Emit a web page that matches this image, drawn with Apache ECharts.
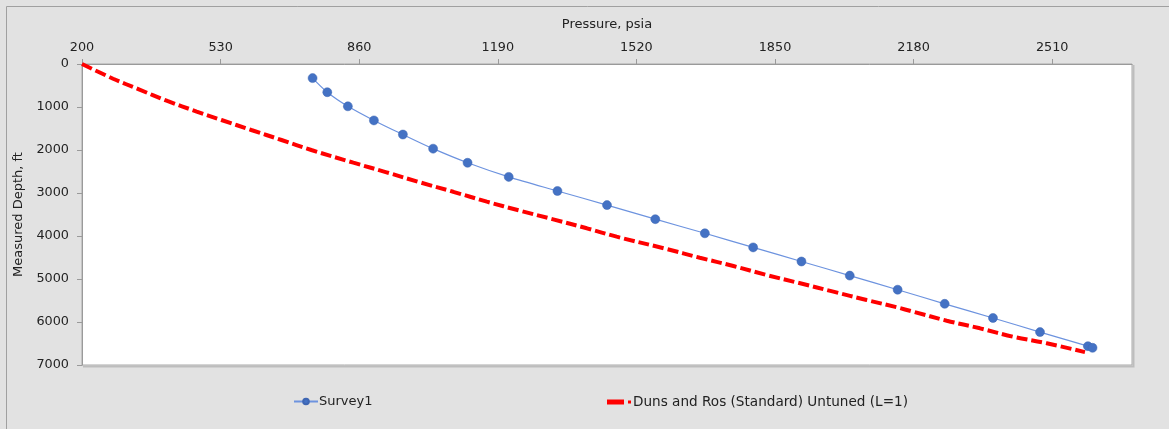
<!DOCTYPE html>
<html>
<head>
<meta charset="utf-8">
<script src="https://cdn.jsdelivr.net/npm/echarts@6/dist/echarts.min.js"></script>
<style>
  html, body { margin: 0; padding: 0; background: #e2e2e2; }
  #chart { width: 1169px; height: 429px; }
</style>
</head>
<body>
<div id="chart"></div>
<script>
// Pressure traverse: measured survey vs. Duns and Ros correlation
const pressureTicks = { min: 200, max: 2700, interval: 330 };
const depthTicks = { min: 0, max: 7000, interval: 1000 };

// Survey1 gauge readings (psia, ft)
const surveyPressure = [749, 784, 833, 895, 964, 1036, 1118, 1216, 1332, 1450, 1565,
  1683, 1798, 1913, 2028, 2142, 2254, 2369, 2481, 2595, 2606];
const surveyDepth = [328, 656, 984, 1312, 1640, 1969, 2297, 2625, 2953, 3281, 3609,
  3937, 4265, 4593, 4921, 5249, 5577, 5906, 6234, 6562, 6600];

// Duns and Ros (Standard) Untuned (L=1) calculated traverse (psia, ft)
const dunsRosPressure = [200, 274, 334, 403, 473, 532, 603, 675, 746, 846, 925, 1005,
  1084, 1164, 1243, 1322, 1402, 1473, 1592, 1671, 1751, 1830, 1910, 1989, 2068, 2140,
  2179, 2259, 2338, 2417, 2497, 2588];
const dunsRosDepth = [0, 342, 584, 858, 1105, 1302, 1535, 1767, 2000, 2295, 2519, 2753,
  2972, 3202, 3412, 3612, 3821, 4016, 4302, 4505, 4698, 4907, 5100, 5295, 5488, 5658,
  5760, 5970, 6147, 6342, 6495, 6700];

const pairs = (xs, ys) => xs.map((x, i) => [x, ys[i]]);

const FONT = '"DejaVu Sans", Verdana, sans-serif';
const TEXT = '#222222';
const AXIS = '#9a9a9a';
const plain = v => String(v);

const chart = echarts.init(document.getElementById('chart'), null, { renderer: 'canvas' });
chart.setOption({
  backgroundColor: '#e2e2e2',
  animation: false,
  textStyle: { fontFamily: FONT },
  grid: {
    left: 82, top: 64, width: 1050, height: 301,
    show: true, backgroundColor: '#ffffff', borderColor: '#a8a8a8', borderWidth: 1
  },
  graphic: [
    // panel outline
    { type: 'polyline', shape: { points: [[6.5, 429], [6.5, 6.5], [1169, 6.5]] },
      style: { stroke: '#a0a0a0', lineWidth: 1, fill: null }, z: 0 },
    // plot-area shadow on right and bottom
    { type: 'polyline', shape: { points: [[1133.5, 65], [1133.5, 366.5], [83, 366.5]] },
      style: { stroke: '#bdbdbd', lineWidth: 2, fill: null }, z: 0 }
  ],
  xAxis: {
    type: 'value', position: 'top',
    min: pressureTicks.min, max: pressureTicks.max, interval: pressureTicks.interval,
    name: 'Pressure, psia', nameLocation: 'middle', nameGap: 33,
    nameTextStyle: { color: TEXT, fontSize: 13, fontFamily: FONT },
    axisLine: { show: true, lineStyle: { color: AXIS } },
    axisTick: { show: true, length: 5, inside: false, lineStyle: { color: AXIS } },
    axisLabel: { color: TEXT, fontSize: 12.8, fontFamily: FONT, margin: 10,
      showMaxLabel: false, formatter: plain },
    splitLine: { show: false }
  },
  yAxis: {
    type: 'value', inverse: true,
    min: depthTicks.min, max: depthTicks.max, interval: depthTicks.interval,
    name: 'Measured Depth, ft', nameLocation: 'middle', nameGap: 48,
    nameTextStyle: { color: TEXT, fontSize: 13, fontFamily: FONT },
    axisLine: { show: true, lineStyle: { color: AXIS } },
    axisTick: { show: true, length: 5, inside: false, lineStyle: { color: AXIS } },
    axisLabel: { color: TEXT, fontSize: 12.8, fontFamily: FONT, margin: 13, formatter: plain },
    splitLine: { show: false }
  },
  legend: [
    {
      data: ['Survey1'], left: 288, top: 390,
      itemWidth: 24, itemHeight: 7, itemGap: 4,
      textStyle: { color: TEXT, fontSize: 13, fontFamily: FONT, padding: [0, 0, 0, -4] }
    },
    {
      data: [{
        name: 'Duns and Ros (Standard) Untuned (L=1)',
        icon: 'path://M0,0H17V5H0ZM21,1H24V4H21Z'
      }],
      left: 602, top: 390,
      itemWidth: 24, itemHeight: 5,
      textStyle: { color: TEXT, fontSize: 13.6, fontFamily: FONT, padding: [0, 0, 0, -3] }
    }
  ],
  series: [
    {
      name: 'Duns and Ros (Standard) Untuned (L=1)',
      type: 'line',
      data: pairs(dunsRosPressure, dunsRosDepth),
      showSymbol: false, symbol: 'none',
      smooth: 0.35,
      lineStyle: { color: '#ff0000', width: 4, type: [11, 4] },
      itemStyle: { color: '#ff0000' },
      z: 2
    },
    {
      name: 'Survey1',
      type: 'line',
      data: pairs(surveyPressure, surveyDepth),
      symbol: 'circle', symbolSize: 9, showSymbol: true,
      smooth: 0.3,
      lineStyle: { color: '#6d93df', width: 1.2 },
      itemStyle: { color: '#4472c4', borderColor: '#3e66b3', borderWidth: 0.5 },
      z: 3
    }
  ]
});
</script>
</body>
</html>
